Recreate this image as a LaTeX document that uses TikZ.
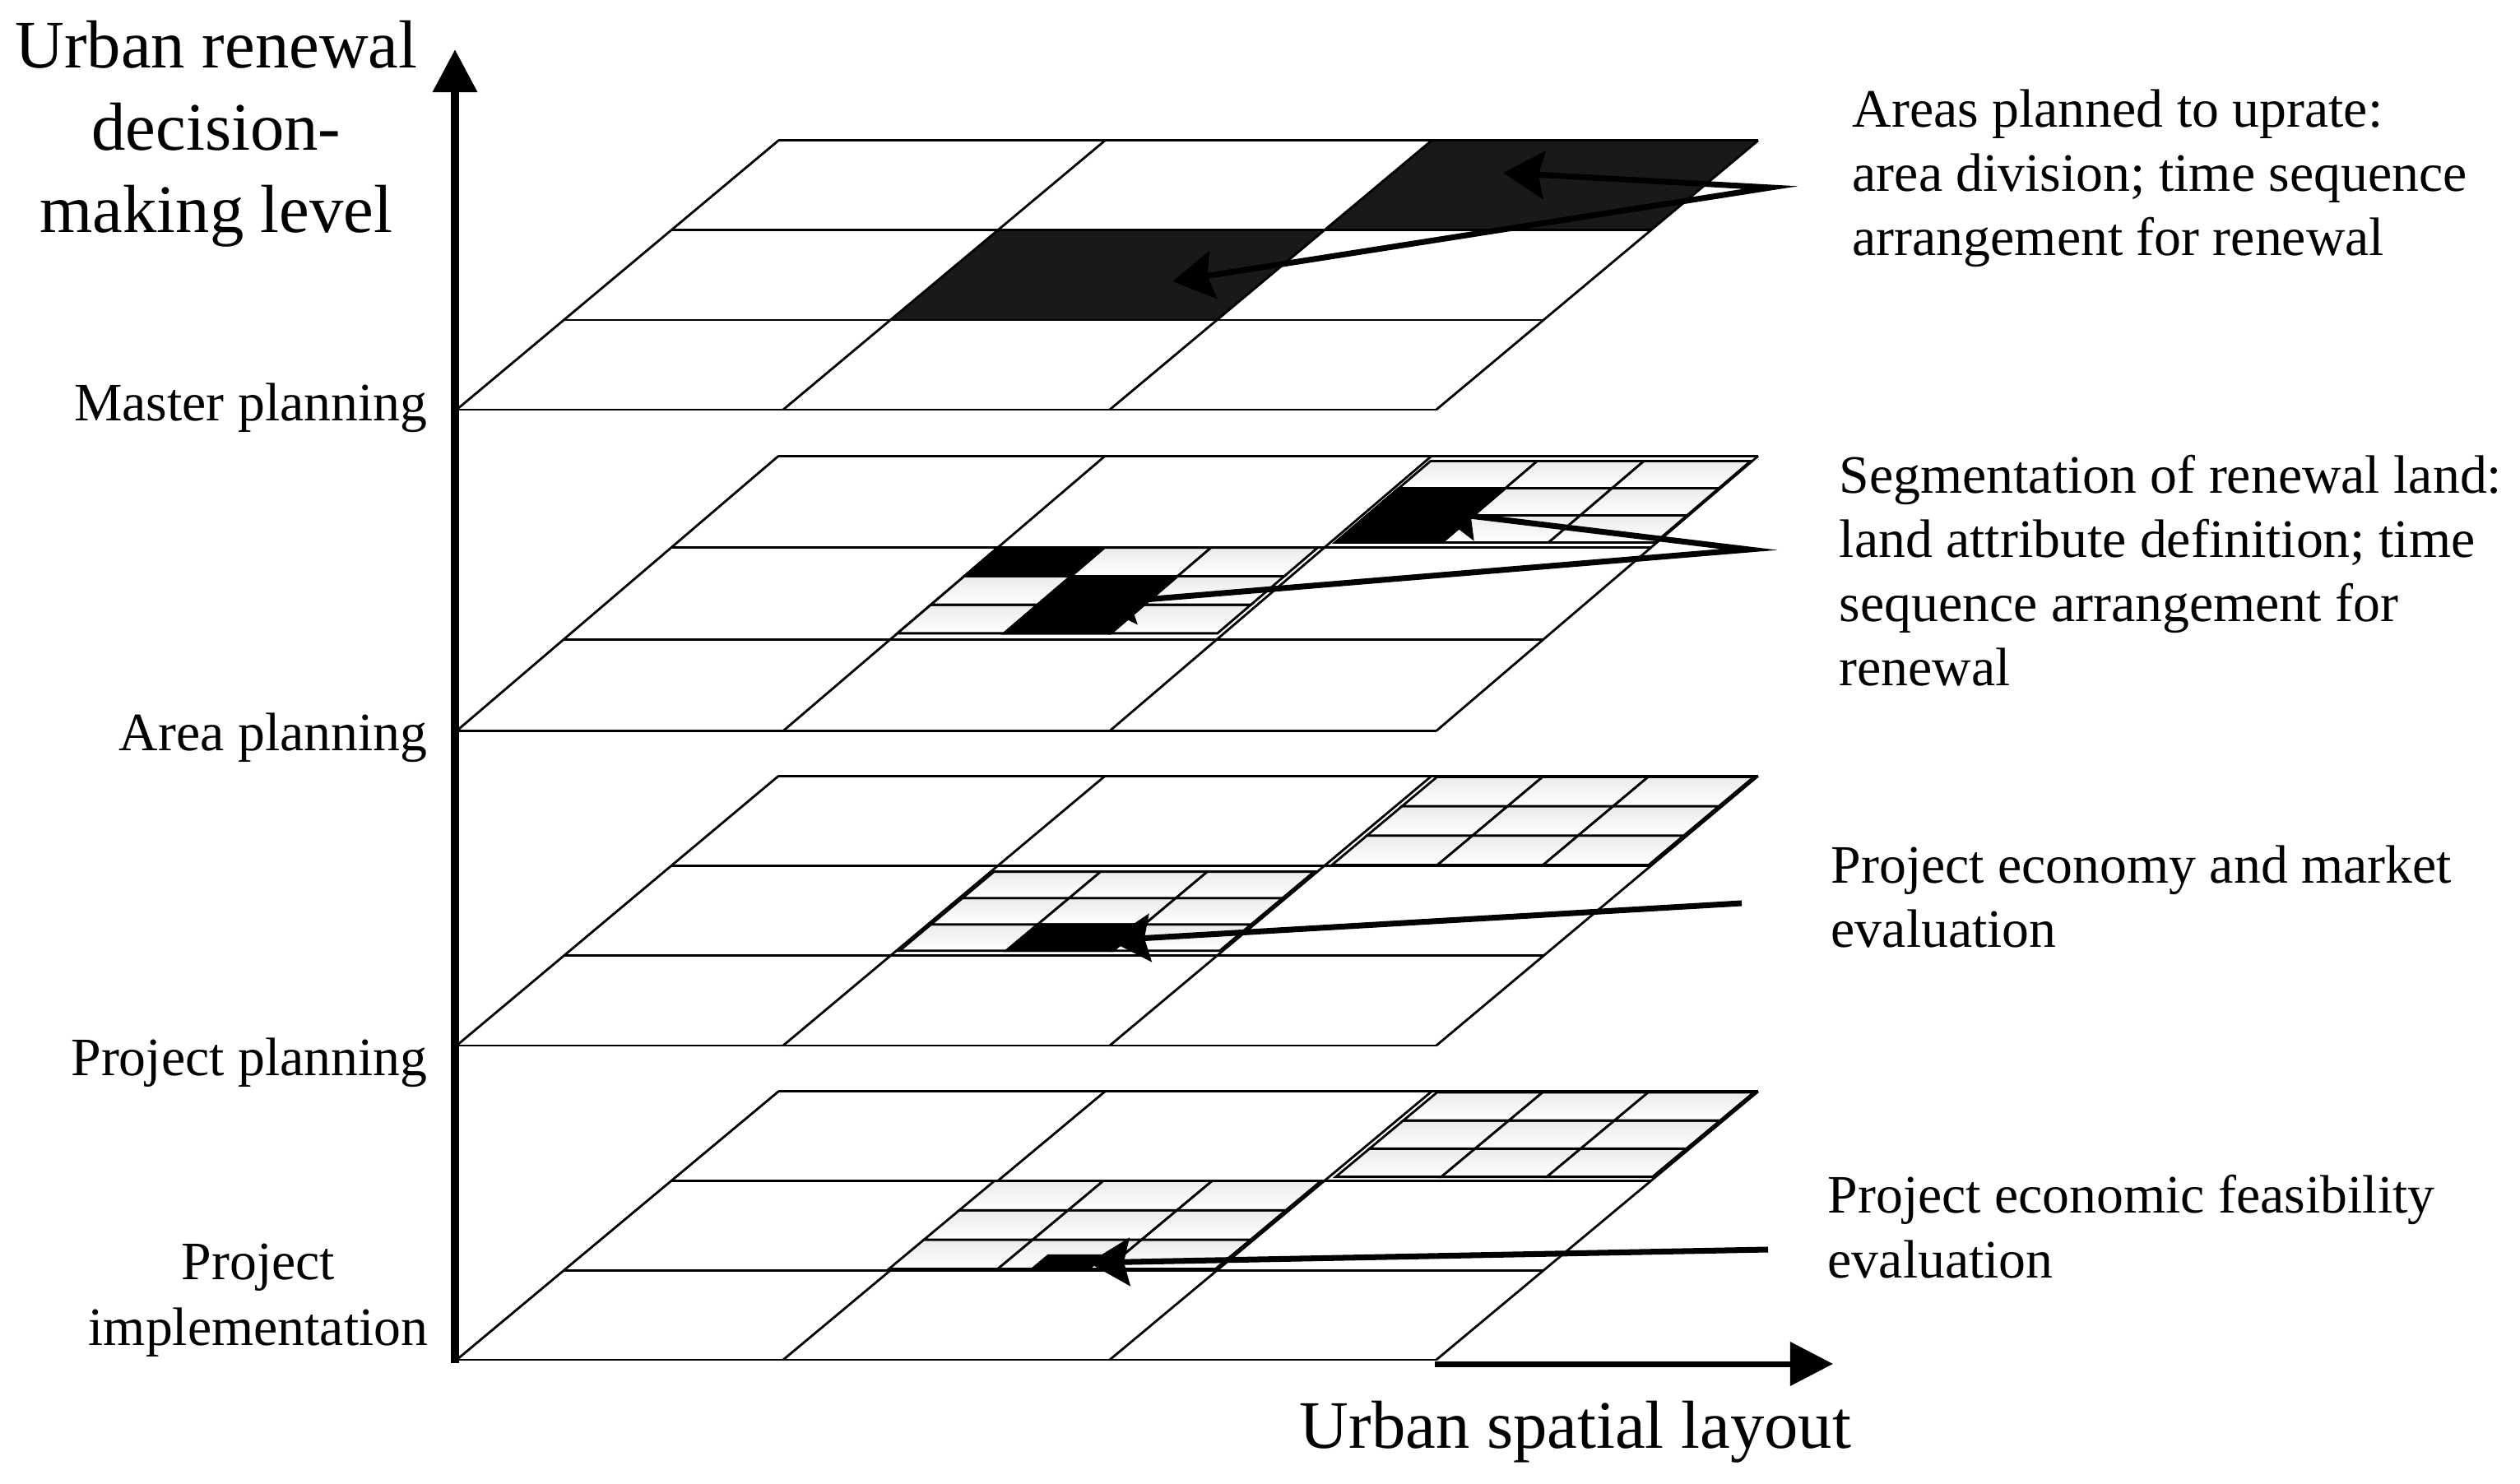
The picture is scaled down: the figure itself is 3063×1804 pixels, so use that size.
\documentclass[tikz,border=0pt]{standalone}
\usepackage{fontspec}
\setmainfont{Liberation Serif}
\usetikzlibrary{arrows.meta}
\newcommand\biggrid{%
  \foreach \k in {0,1,2,3}{\draw[gl] (\k,0) -- (\k,3); \draw[gl] (0,\k) -- (3,\k);}}
\newcommand\subgrid[4]{%
  \foreach \si in {0,1,2}{\foreach \sj in {0,1,2}{%
    \path[lightcell] ({#1+\si*#3/3},{#2+\sj*#4/3}) -- ++({#3/3},0) -- ++(0,{#4/3}) -- ++({-#3/3},0) -- cycle;}}}
\newcommand\darkcell[6]{%
  \path[blackcell] ({#1+#5*#3/3},{#2+#6*#4/3}) -- ++({#3/3},0) -- ++(0,{#4/3}) -- ++({-#3/3},0) -- cycle;}
\begin{document}
\begin{tikzpicture}[x=0.01cm,y=-0.01cm,
  gl/.style={line width=0.8pt},
  lightcell/.style={draw=black, line width=0.8pt, top color=black!8, bottom color=white},
  blackcell/.style={draw=black, fill=black, line width=0.8pt},
  hatch/.style={fill=black!90},
  ptr/.tip={Stealth[length=0.5cm,width=0.58cm,inset=0.07cm]},
  tri/.tip={Triangle[length=0.52cm,width=0.52cm]},
  callout/.style={line width=2pt, line join=miter},
  lvl/.style={font=\fontsize{18.7}{22.6}\selectfont, inner sep=0pt},
  rt/.style={font=\fontsize{18.7}{22.2}\selectfont, inner sep=0pt, align=left, anchor=base west},
  ax/.style={font=\fontsize{23.5}{28.45}\selectfont, inner sep=0pt}]
\useasboundingbox (0,0) rectangle (3063,1804);
\fill[white] (0,0) rectangle (3063,1804);

% ---- Master planning level
\begin{scope}[shift={(555,498)}, x={(3.967cm,0cm)}, y={(1.3033cm,1.09cm)}]
  \path[hatch] (2,2) -- (3,2) -- (3,3) -- (2,3) -- cycle;
  \path[hatch] (1,1) -- (2,1) -- (2,2) -- (1,2) -- cycle;
  \biggrid
\end{scope}

% ---- Area planning level
\begin{scope}[shift={(555,888.5)}, x={(3.967cm,0cm)}, y={(1.3033cm,1.1133cm)}]
  \biggrid
  \subgrid{2.015}{2.055}{0.98}{0.89}
  \darkcell{2.015}{2.055}{0.98}{0.89}{0}{0}
  \darkcell{2.015}{2.055}{0.98}{0.89}{0}{1}
  \subgrid{1.0}{1.065}{0.98}{0.935}
  \darkcell{1.0}{1.065}{0.98}{0.935}{0}{2}
  \darkcell{1.0}{1.065}{0.98}{0.935}{1}{1}
  \darkcell{1.0}{1.065}{0.98}{0.935}{1}{0}
\end{scope}

% ---- Project planning level
\begin{scope}[shift={(555,1271)}, x={(3.967cm,0cm)}, y={(1.3033cm,1.0917cm)}]
  \biggrid
  \subgrid{2.02}{2.01}{0.97}{0.98}
  \subgrid{1.01}{1.055}{0.98}{0.88}
  \darkcell{1.01}{1.055}{0.98}{0.88}{1}{0}
\end{scope}

% ---- Project implementation level
\begin{scope}[shift={(555,1653)}, x={(3.967cm,0cm)}, y={(1.3033cm,1.0867cm)}]
  \biggrid
  \subgrid{2.02}{2.045}{0.97}{0.945}
  \subgrid{0.99}{1.015}{1.0}{0.985}
  \path[fill=black] (1.423,1.015) -- (1.607,1.015) -- (1.607,1.179) -- (1.423,1.179) -- cycle;
\end{scope}

% ---- axes
\coordinate (origin) at (553,1657);
\coordinate (ytip) at (553,60);
\coordinate (xstart) at (1744,1658);
\coordinate (xtip) at (2228,1658);
\draw[line width=0.1cm, -tri] (origin) -- (ytip);
\draw[line width=0.07cm, -tri] (xstart) -- (xtip);

% ---- axis labels (base anchor = last line of a multi-line node)
\node[ax, align=center, anchor=base] (ylabel) at (263,283) {Urban renewal\\decision-\\making level};
\node[ax, anchor=base] (xlabel) at (1915,1760) {Urban spatial layout};

% ---- level labels
\node[lvl, anchor=base east] (lmaster) at (520,512) {Master planning};
\node[lvl, anchor=base east] (larea) at (520,913) {Area planning};
\node[lvl, anchor=base east] (lproject) at (520,1307) {Project planning};
\node[lvl, align=center, anchor=base] (limpl) at (314,1635) {Project\\implementation};

% ---- right descriptions
\node[rt] (d1) at (2251,311) {Areas planned to uprate:\\area division; time sequence\\arrangement for renewal};
\node[rt] (d2) at (2235,834) {Segmentation of renewal land:\\land attribute definition; time\\sequence arrangement for\\renewal};
\node[rt] (d3) at (2225,1152) {Project economy and market\\evaluation};
\node[rt] (d4) at (2221,1553) {Project economic feasibility\\evaluation};

% ---- callout arrows
\coordinate (m-apex) at (2152,228);
\coordinate (m-tip1) at (1827,210);
\coordinate (m-tip2) at (1425,342);
\coordinate (a-apex) at (2126,668);
\coordinate (a-tip1) at (1745,622);
\coordinate (a-tip2) at (1330,734);
\coordinate (p-start) at (2117,1098);
\coordinate (p-tip) at (1348,1143);
\coordinate (i-start) at (2149,1519);
\coordinate (i-tip) at (1323,1535);
\draw[callout, ptr-ptr] (m-tip1) -- (m-apex) -- (m-tip2);
\draw[callout, ptr-ptr] (a-tip1) -- (a-apex) -- (a-tip2);
\draw[callout, -ptr] (p-start) -- (p-tip);
\draw[callout, -ptr] (i-start) -- (i-tip);
\end{tikzpicture}
\end{document}
